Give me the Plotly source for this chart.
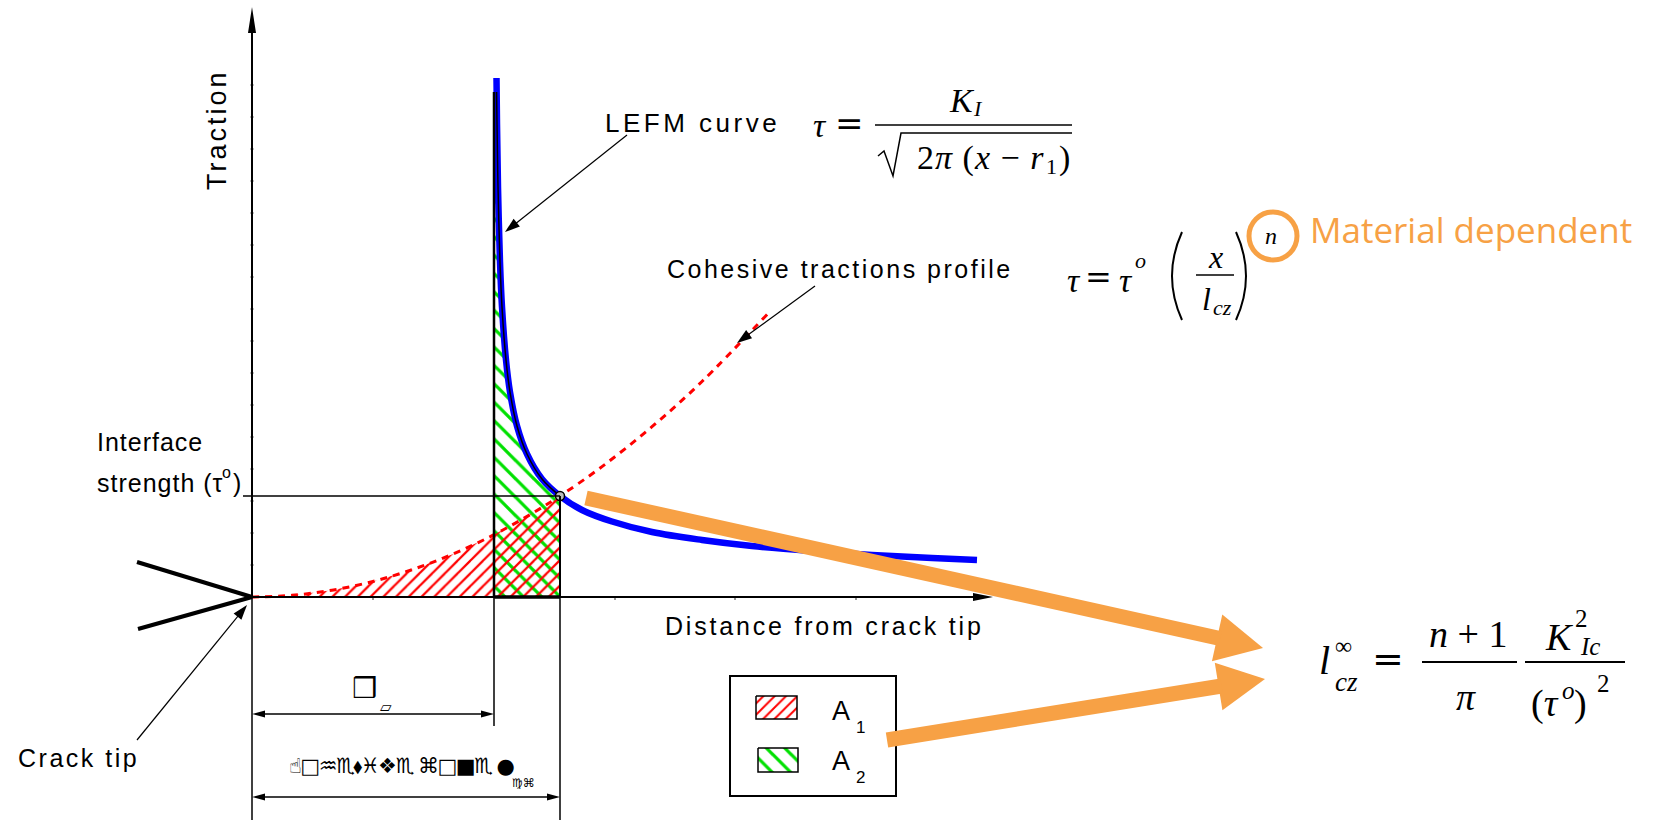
import math
import plotly.graph_objects as go

# ---------------- data ----------------
# drawing units: distance from the crack tip (x) and traction (y)
r1 = 242            # end of the traction-free zone (start of LEFM singularity)
l_cz = 308          # cohesive zone length
tau_o = 101         # interface strength

# LEFM curve  tau = K_I / sqrt(2 pi (x - r1))
lefm_x = [244.5, 245, 246, 248, 250, 254, 258, 265, 275, 290, 308, 330, 360, 400, 450, 500, 560, 620, 680, 725]
lefm_y = [519, 473, 410, 335, 290, 237, 205, 171, 143, 118, 101, 87, 75.5, 65, 57, 51, 46, 42, 39, 37]

# thin black LEFM outline of the A2 area
edge_x = [244.6, 245, 246, 248, 250, 254, 258, 265, 275, 290, 308]
edge_y = [505, 473, 410, 335, 290, 237, 205, 171, 143, 118, 101]

# cohesive traction profile  tau = tau_o (x / l_cz)^n
coh_x = [0, 40, 80, 120, 160, 200, 242, 280, 308, 350, 400, 450, 516]
coh_y = [0, 1.7, 6.8, 15.3, 27.3, 42.6, 62.3, 83.5, 101, 130.4, 170.3, 215.5, 283.5]

x_ticks = [121, 242, 363, 483, 604]
y_ticks = [32, 64, 96, 128, 160, 192, 224, 256, 288, 320, 352, 384, 416, 448, 480, 512]
x_axis_end = 741
y_axis_end = 590

legend_names = ["A", "A"]
legend_subs = ["1", "2"]

# ---------------- geometry helpers ----------------
W, H = 1656, 820
OX, OY = 252, 597           # crack tip position in the picture


def X(px):
    return px - OX


def Y(py):
    return OY - py


BLACK = "#000000"
ORANGE = "#F7A145"
RED = "#FF0000"
GREEN = "#00E000"
BLUE = "#0000FF"
SANS = "Liberation Sans, Arial, sans-serif"
SERIF = "Liberation Serif, Times New Roman, serif"
EQ = "DejaVu Serif, serif"
SYM = "DejaVu Sans, sans-serif"

fig = go.Figure()

# ---- hatched areas ----
k = coh_x.index(l_cz)
m = lefm_x.index(l_cz)
a2_x = [r1, r1] + lefm_x[: m + 1] + [l_cz, r1]
a2_y = [0, lefm_y[0]] + lefm_y[: m + 1] + [0, 0]
fig.add_trace(go.Scatter(x=a2_x, y=a2_y, mode="lines", fill="toself", name="A2",
                         fillcolor="rgba(0,0,0,0)", line=dict(width=0),
                         fillpattern=dict(shape="\\", fgcolor=GREEN, fgopacity=1, bgcolor="rgba(0,0,0,0)",
                                          size=13, solidity=0.25),
                         hoverinfo="skip", showlegend=False))
a1_x = coh_x[: k + 1] + [l_cz, 0]
a1_y = coh_y[: k + 1] + [0, 0]
fig.add_trace(go.Scatter(x=a1_x, y=a1_y, mode="lines", fill="toself", name="A1",
                         fillcolor="rgba(0,0,0,0)", line=dict(width=0),
                         fillpattern=dict(shape="/", fgcolor=RED, fgopacity=1, bgcolor="rgba(0,0,0,0)",
                                          size=9, solidity=0.25),
                         hoverinfo="skip", showlegend=False))

# ---- straight construction lines ----
def seg(x0, y0, x1, y1, w=1.5, color=BLACK):
    fig.add_shape(type="line", x0=x0, y0=y0, x1=x1, y1=y1, layer="above",
                  line=dict(color=color, width=w))


def head(x0, y0, x1, y1, length, half, color=BLACK):
    dx, dy = x1 - x0, y1 - y0
    L = math.hypot(dx, dy)
    ux, uy = dx / L, dy / L
    bx, by = x1 - ux * length, y1 - uy * length
    nx, ny = -uy, ux
    fig.add_shape(type="path", layer="above", fillcolor=color, line=dict(width=0),
                  path=f"M {x1},{y1} L {bx + nx * half},{by + ny * half} "
                       f"L {bx - nx * half},{by - ny * half} Z")
    return bx, by, ux, uy


def black_arrow(x0, y0, x1, y1, w=1.3, length=14, half=4.5, both=False):
    bx, by, ux, uy = head(x0, y0, x1, y1, length, half)
    sx, sy = x0, y0
    if both:
        sx, sy, _, _ = head(x1, y1, x0, y0, length, half)
    seg(sx, sy, bx + ux * 2, by + uy * 2, w)


seg(0, Y(820), 0, 0, 1.5)                        # y-axis extension (dimension line)
seg(r1, 0, r1, edge_y[0], 2.5)                   # r1 line
seg(r1, Y(726), r1, 0, 1.5)
seg(l_cz, 0, l_cz, tau_o, 2)                     # l_cz line
seg(l_cz, Y(820), l_cz, 0, 1.5)
seg(X(243), tau_o, l_cz, tau_o, 1.5)             # interface strength level
seg(r1, 0, l_cz, 0, 3.5)                         # bottom of the box
# crack faces
seg(X(137), Y(562), 0, 0, 4)
seg(X(138), Y(629), 0, 0, 4)

# axis ticks
for t in x_ticks:
    seg(t, 0, t, -3, 1, "#333333")
for t in y_ticks:
    seg(-2, t, 2, t, 1, "#888888")

# axes
black_arrow(0, 0, 0, y_axis_end, w=2, length=26, half=4)
black_arrow(0, 0, x_axis_end, 0, w=2, length=20, half=4)
# dimensions
black_arrow(0, Y(714), r1, Y(714), w=1.6, length=13, half=3.5, both=True)
black_arrow(0, Y(797), l_cz, Y(797), w=1.6, length=13, half=3.5, both=True)
# pointers
black_arrow(X(137), Y(740), X(247), Y(605), w=1.2, length=15, half=5)
black_arrow(X(627), Y(135), X(505), Y(232), w=1.2, length=15, half=5)
black_arrow(X(815), Y(286), X(737), Y(343), w=1.2, length=15, half=5)

# ---- curves ----
fig.add_trace(go.Scatter(x=coh_x, y=coh_y, mode="lines", line=dict(color=RED, width=3, dash="7px,6px", shape="spline"),
                         hoverinfo="skip", showlegend=False))
fig.add_trace(go.Scatter(x=lefm_x, y=lefm_y, mode="lines", line=dict(color=BLUE, width=6.5, shape="spline"),
                         hoverinfo="skip", showlegend=False))
fig.add_trace(go.Scatter(x=edge_x, y=edge_y, mode="lines", line=dict(color=BLACK, width=1.5, shape="spline"),
                         hoverinfo="skip", showlegend=False))
fig.add_trace(go.Scatter(x=[l_cz], y=[tau_o], mode="markers",
                         marker=dict(size=9, color="#BBBBBB", line=dict(color=BLACK, width=1.5)),
                         hoverinfo="skip", showlegend=False))

# ---- legend swatches ----
def swatch(x0, x1, y0, y1, shape, color, size):
    fig.add_trace(go.Scatter(x=[x0, x1, x1, x0, x0], y=[y0, y0, y1, y1, y0], mode="lines",
                             fill="toself", fillcolor="rgba(0,0,0,0)",
                             line=dict(color=BLACK, width=1.5),
                             fillpattern=dict(shape=shape, fgcolor=color, fgopacity=1,
                                              bgcolor="rgba(0,0,0,0)", size=size, solidity=0.25),
                             hoverinfo="skip", showlegend=False))


swatch(X(756), X(797), Y(696), Y(719), "/", RED, 8)
swatch(X(758), X(798), Y(748), Y(772), "\\", GREEN, 13)
fig.add_shape(type="rect", x0=X(730), x1=X(896), y0=Y(676), y1=Y(796),
              line=dict(color=BLACK, width=2))

ann = []


def text(x, y, s, size=25, family=SANS, color=BLACK, xa="center", ya="middle", angle=0, ls=None):
    if ls:
        s = f'<span style="letter-spacing:{ls}px">{s}</span>'
    ann.append(dict(x=x, y=y, text=s, showarrow=False, xanchor=xa, yanchor=ya, textangle=angle,
                    font=dict(family=family, size=size, color=color)))


# ---- labels ----
text(X(217), Y(130), "Traction", size=27, angle=-90, ls=3)
text(X(603), Y(123), "LEFM curve", size=26, xa="left", ls=3.5)
text(X(665), Y(269), "Cohesive tractions profile", size=25, xa="left", ls=2.5)
text(X(95), Y(442), "Interface", size=25, xa="left", ls=1)
text(X(95), Y(483), "strength (τ", size=25, xa="left", ls=1)
text(X(226), Y(472), "o", size=16)
text(X(237), Y(483), ")", size=25)
text(X(663), Y(626), "Distance from crack tip", size=25, xa="left", ls=2.8)
text(X(16), Y(758), "Crack tip", size=25, xa="left", ls=2.5)
text(X(841), Y(711), legend_names[0], size=27)
text(X(860), Y(727), legend_subs[0], size=17)
text(X(841), Y(761), legend_names[1], size=27)
text(X(860), Y(777), legend_subs[1], size=17)
# dimension labels (symbol-font text as it appears)
text(X(364), Y(688), "❒", size=28, family=SYM)
text(X(386), Y(707), "▱", size=15, family=SYM)
text(X(287), Y(766), "☝□♒♏⬧♓❖♏ ⌘□■♏ ●", size=21, family=SYM, xa="left", ls=-1.5)
text(X(523), Y(783), "♍⌘", size=12, family=SYM)

# ---- formula 1 (LEFM) ----
text(X(820), Y(125), "<i>τ</i>", size=34, family=SERIF)
text(X(849), Y(123), "=", size=34, family=EQ)
seg(X(875), Y(125), X(1072), Y(125), 1.5)
text(X(962), Y(100), "<i>K</i>", size=34, family=SERIF)
text(X(978), Y(108), "<i>I</i>", size=22, family=SERIF)
fig.add_shape(type="path", line=dict(color=BLACK, width=1.5),
              path=f"M {X(878)},{Y(156)} L {X(884)},{Y(151)} L {X(893)},{Y(176)} L {X(901)},{Y(133)} L {X(1072)},{Y(133)}")
text(X(1046), Y(158), "2<i>π</i> (<i>x</i> − <i>r</i>", size=34, family=SERIF, xa="right", ls=1)
text(X(1051), Y(166), "1", size=22, family=SERIF)
text(X(1064), Y(158), ")", size=34, family=SERIF)

# ---- formula 2 (cohesive) ----
text(X(1074), Y(280), "<i>τ</i>", size=34, family=SERIF)
text(X(1098), Y(277), "=", size=32, family=EQ)
text(X(1126), Y(280), "<i>τ</i>", size=34, family=SERIF)
text(X(1140), Y(260), "<i>o</i>", size=22, family=SERIF)
fig.add_shape(type="path", line=dict(color=BLACK, width=2),
              path=f"M {X(1182)},{Y(232)} Q {X(1162)},{Y(276)} {X(1182)},{Y(320)}")
fig.add_shape(type="path", line=dict(color=BLACK, width=2),
              path=f"M {X(1236)},{Y(232)} Q {X(1256)},{Y(276)} {X(1236)},{Y(320)}")
text(X(1215), Y(257), "<i>x</i>", size=32, family=SERIF)
seg(X(1196), Y(275), X(1234), Y(275), 1.5)
text(X(1206), Y(299), "<i>l</i>", size=32, family=SERIF)
text(X(1222), Y(307), "<i>cz</i>", size=22, family=SERIF)
text(X(1271), Y(236), "<i>n</i>", size=24, family=SERIF)
fig.add_shape(type="circle", x0=X(1249), x1=X(1297), y0=Y(260), y1=Y(212),
              line=dict(color=ORANGE, width=5))
text(X(1308), Y(229), "Material dependent", size=35, family="Open Sans, sans-serif", color=ORANGE, xa="left")

# ---- formula 3 (cohesive zone length) ----
text(X(1324), Y(660), "<i>l</i>", size=40, family=SERIF)
text(X(1343), Y(646), "∞", size=24, family=SERIF)
text(X(1346), Y(682), "<i>cz</i>", size=27, family=SERIF)
text(X(1388), Y(659), "=", size=38, family=EQ)
seg(X(1422), Y(662), X(1517), Y(662), 2)
text(X(1468), Y(634), "<i>n</i> + 1", size=38, family=SERIF)
text(X(1466), Y(697), "<i>π</i>", size=38, family=SERIF)
seg(X(1525), Y(662), X(1625), Y(662), 2)
text(X(1559), Y(637), "<i>K</i>", size=38, family=SERIF)
text(X(1581), Y(618), "2", size=25, family=SERIF)
text(X(1590), Y(646), "<i>Ic</i>", size=25, family=SERIF)
text(X(1561), Y(703), "(<i>τ</i>", size=38, family=SERIF, xa="right")
text(X(1568), Y(690), "<i>o</i>", size=25, family=SERIF)
text(X(1580), Y(703), ")", size=38, family=SERIF)
text(X(1603), Y(683), "2", size=25, family=SERIF)

# ---- orange arrows ----
def orange_arrow(x0, y0, x1, y1, width=15, head_len=47, head_half=24):
    bx, by, ux, uy = head(x0, y0, x1, y1, head_len, head_half, ORANGE)
    fig.add_shape(type="line", x0=x0, y0=y0, x1=bx + ux * 3, y1=by + uy * 3, layer="above",
                  line=dict(color=ORANGE, width=width))


orange_arrow(X(586), Y(498), X(1263), Y(648))
orange_arrow(X(887), Y(740), X(1265), Y(679))

fig.update_layout(
    width=W, height=H, autosize=False,
    margin=dict(l=0, r=0, t=0, b=0, pad=0),
    paper_bgcolor="white", plot_bgcolor="white",
    showlegend=False,
    annotations=ann,
    xaxis=dict(range=[X(0), X(W)], visible=False, fixedrange=True),
    yaxis=dict(range=[Y(H), Y(0)], visible=False, fixedrange=True),
)

fig.write_html("out.html")
